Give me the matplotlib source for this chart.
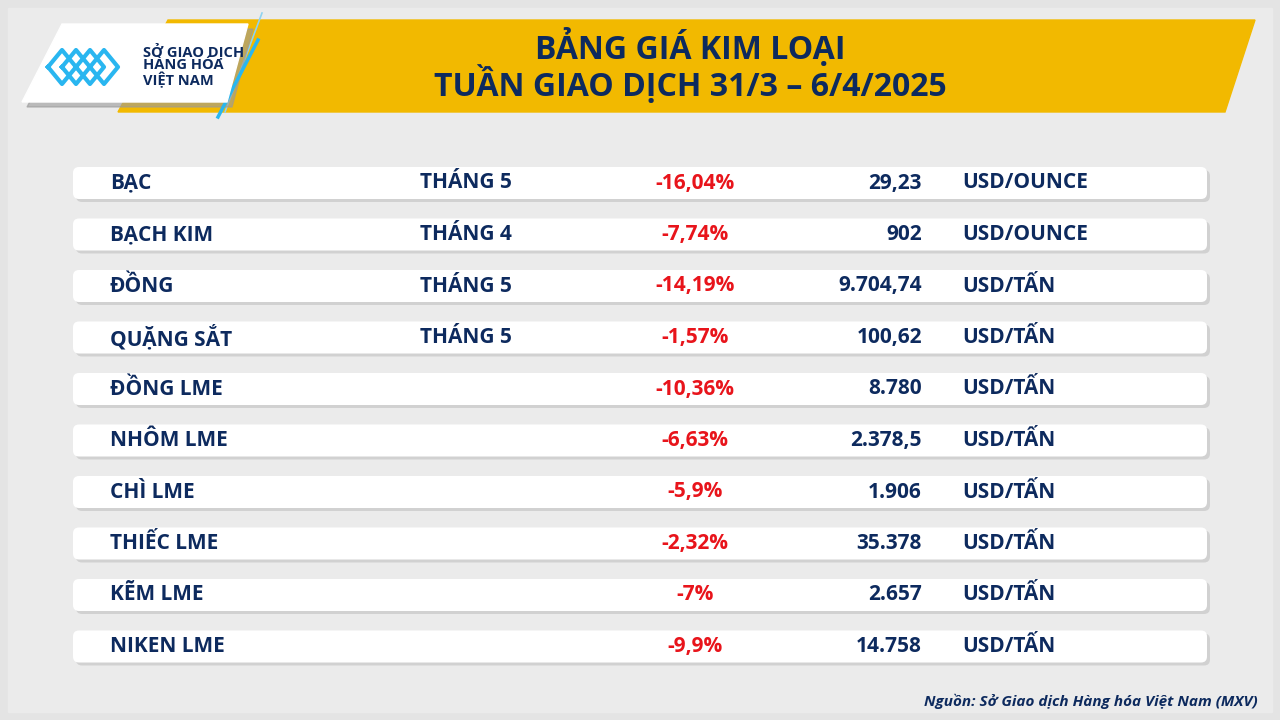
import matplotlib.pyplot as plt
from matplotlib.patches import Polygon, FancyBboxPatch

plt.rcParams['font.family'] = ['Open Sans', 'DejaVu Sans']

TITLE_1 = "BẢNG GIÁ KIM LOẠI"
TITLE_2 = "TUẦN GIAO DỊCH 31/3 – 6/4/2025"
names = ["BẠC", "BẠCH KIM", "ĐỒNG", "QUẶNG SẮT", "ĐỒNG LME", "NHÔM LME",
         "CHÌ LME", "THIẾC LME", "KẼM LME", "NIKEN LME"]
months = ["THÁNG 5", "THÁNG 4", "THÁNG 5", "THÁNG 5", "", "", "", "", "", ""]
changes = ["-16,04%", "-7,74%", "-14,19%", "-1,57%", "-10,36%", "-6,63%",
           "-5,9%", "-2,32%", "-7%", "-9,9%"]
prices = ["29,23", "902", "9.704,74", "100,62", "8.780", "2.378,5",
          "1.906", "35.378", "2.657", "14.758"]
units = ["USD/OUNCE", "USD/OUNCE", "USD/TẤN", "USD/TẤN", "USD/TẤN", "USD/TẤN",
         "USD/TẤN", "USD/TẤN", "USD/TẤN", "USD/TẤN"]
SOURCE = "Nguồn: Sở Giao dịch Hàng hóa Việt Nam (MXV)"

NAVY = "#0d2a5e"
RED = "#e8141b"

fig = plt.figure(figsize=(12.8, 7.2), dpi=100)
ax = fig.add_axes([0, 0, 1, 1])
ax.set_xlim(0, 1280)
ax.set_ylim(720, 0)
ax.axis("off")

# background
ax.add_patch(Polygon([(0, 0), (1280, 0), (1280, 720), (0, 720)], color="#e4e4e4", zorder=0))
ax.add_patch(Polygon([(8, 8), (1272, 8), (1272, 712), (8, 712)], color="#ebebeb", zorder=0))

# header band
ax.add_patch(Polygon([(168, 20), (1255, 20), (1225, 112), (118, 112)], color="#f2b900", zorder=1))
ax.plot([262, 225], [13, 112], color="#8fd3f0", lw=1.2, zorder=2)
ax.plot([258, 218], [40, 117], color="#29b6f0", lw=2.5, zorder=3)
# logo card with shadow
ax.add_patch(Polygon([(27, 107), (232, 107), (253, 29), (67, 29)], color="#9a9a9a", alpha=0.6, zorder=2))
ax.add_patch(Polygon([(22, 102), (227, 102), (248, 24), (62, 24)], color="white", zorder=3))
for i in range(4):
    x0 = 48 + i * 14
    ax.plot([x0, x0 + 14, x0 + 28, x0 + 14, x0], [67, 50, 67, 84, 67], color="#29b6f0", lw=3, zorder=4)
ax.text(143, 65, "SỞ GIAO DỊCH\nHÀNG HÓA\nVIỆT NAM", fontsize=10.5, fontweight="bold",
        color=NAVY, va="center", ha="left", linespacing=0.95, zorder=5)

ax.text(690, 47, TITLE_1, fontsize=23, fontweight="bold", color=NAVY, ha="center", va="center", zorder=5)
ax.text(690, 85, TITLE_2, fontsize=23, fontweight="bold", color=NAVY, ha="center", va="center", zorder=5)

# rows
row_y0 = 183
row_step = 51.5
for i in range(len(names)):
    y = row_y0 + i * row_step
    ax.add_patch(FancyBboxPatch((76, y - 13), 1134, 32, boxstyle="round,pad=0,rounding_size=6",
                                fc="#b8b8b8", ec="none", alpha=0.5, zorder=2))
    ax.add_patch(FancyBboxPatch((73, y - 16), 1134, 32, boxstyle="round,pad=0,rounding_size=6",
                                fc="white", ec="none", zorder=3))
    ax.text(110, y, names[i], fontsize=15, fontweight="bold", color=NAVY, ha="left", va="center", zorder=4)
    ax.text(420, y, months[i], fontsize=15, fontweight="bold", color=NAVY, ha="left", va="center", zorder=4)
    ax.text(695, y, changes[i], fontsize=15, fontweight="bold", color=RED, ha="center", va="center", zorder=4)
    ax.text(922, y, prices[i], fontsize=15, fontweight="bold", color=NAVY, ha="right", va="center", zorder=4)
    ax.text(962, y, units[i], fontsize=15, fontweight="bold", color=NAVY, ha="left", va="center", zorder=4)

ax.text(1258, 701, SOURCE, fontsize=11, fontweight="bold", style="italic", color=NAVY,
        ha="right", va="center", zorder=4)

fig.savefig("out.png", dpi=100)
